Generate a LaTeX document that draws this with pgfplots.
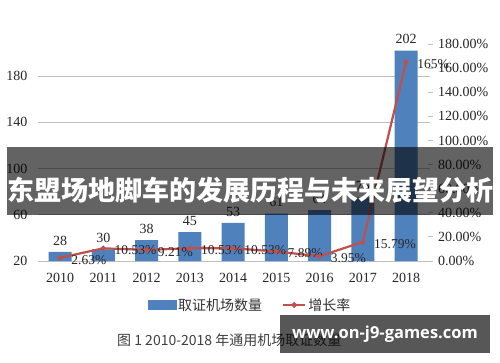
\documentclass[border=0pt]{standalone}
\usepackage{pgfplots}
\pgfplotsset{compat=1.18}
\usepackage{fontspec}
\setmainfont{Liberation Serif}
\newfontfamily\cjk{Noto Sans CJK SC}
\newfontfamily\wmfont{Open Sans}
\definecolor{barblue}{HTML}{4F81BD}
\definecolor{linered}{HTML}{C0504D}
\definecolor{gridgray}{HTML}{BFBFBF}
\begin{document}
\begin{tikzpicture}[x=1pt,y=1pt]
\path[use as bounding box, fill=white] (0,0) rectangle (500,362);
\begin{axis}[
  at={(38pt,101pt)}, anchor=south west, scale only axis,
  width=392pt, height=217pt,
  xmin=-0.509, xmax=8.555, ymin=20, ymax=207.7,
  axis line style={draw=none},
  major tick length=0pt,
  xtick={0,...,8},
  xticklabels={2010,2011,2012,2013,2014,2015,2016,2017,2018},
  ytick={20,60,100,140,180},
  ymajorgrids, grid style={gridgray, line width=1pt},
  ticklabel style={font=\fontsize{14}{14}\selectfont, text=black!85},
  /pgf/number format/assume math mode=true,
  yticklabel style={xshift=-7pt},
  xticklabel style={yshift=-9pt},
  clip=false,
]
\addplot[ybar, bar width=23pt, bar shift=0pt, fill=barblue, draw=none,
  nodes near coords,
  nodes near coords style={font=\fontsize{14}{14}\selectfont, text=black!85, yshift=3pt}]
  coordinates {(0,28)(1,30)(2,38)(3,45)(4,53)(5,61)(6,64)(7,75)(8,202)};
\end{axis}
\begin{axis}[
  at={(38pt,101pt)}, anchor=south west, scale only axis,
  width=392pt, height=217pt,
  xmin=-0.509, xmax=8.555, ymin=0, ymax=180,
  axis x line=none, axis y line*=right,
  axis line style={draw=none},
  ytick={0,20,...,180},
  yticklabel={\pgfmathprintnumber[fixed,fixed zerofill,precision=2]{\tick}\%},
  tick style={gridgray, line width=0.8pt}, major tick length=5pt, tick align=center,
  ticklabel style={font=\fontsize{14}{14}\selectfont, text=black!85},
  /pgf/number format/assume math mode=true,
  yticklabel style={xshift=2pt},
  clip=false,
  legend style={at={(axis description cs:0.541,-0.203)}, anchor=center,
    legend columns=2, draw=none, fill=none,
    font=\cjk\fontsize{14}{14}\selectfont, text=black!80,
    /tikz/every even column/.append style={column sep=18pt},
    legend cell align=left, inner sep=0pt},
]
\addlegendimage{legend image code/.code={\fill[barblue] (0pt,-4.5pt) rectangle (28pt,4.5pt);}}
\addlegendentry{取证机场数量}
\addplot[linered, line width=2.2pt, mark=*, mark size=1.3pt,
  legend image code/.code={\draw[linered,line width=2.2pt] (0pt,0pt) -- (22pt,0pt); \fill[linered] (11pt,0pt) circle (1.6pt);},
  point meta=explicit symbolic, nodes near coords,
  every node near coord/.style={anchor=west, xshift=7pt, yshift=-2pt, text=black!85, font=\fontsize{13.5}{13.5}\selectfont}]
  coordinates {(0,2.63)[2.63\%] (1,10.53)[10.53\%] (2,9.21)[9.21\%] (3,10.53)[10.53\%] (4,10.53)[10.53\%] (5,7.89)[7.89\%] (6,3.95)[3.95\%] (7,15.79)[15.79\%] (8,165)[165\%]};
\addlegendentry{增长率}
\end{axis}
% banner overlay
\fill[black, opacity=0.61] (7,147) rectangle (493,215);
\node[text=white, font=\cjk\bfseries\fontsize{27}{27}\selectfont] at (250,172) {东盟场地脚车的发展历程与未来展望分析};
% caption
\node[anchor=west, text=black!75, font=\cjk\fontsize{14}{14}\selectfont, inner sep=0pt] at (117,22) {图 1 2010-2018 年通用机场取证数量};
% watermark
\fill[black, opacity=0.66] (280,9) rectangle (490,47);
\node[text=white, font=\wmfont\bfseries\fontsize{16.5}{16.5}\selectfont] at (385,28) {www.on-j9-games.com};
\end{tikzpicture}
\end{document}
